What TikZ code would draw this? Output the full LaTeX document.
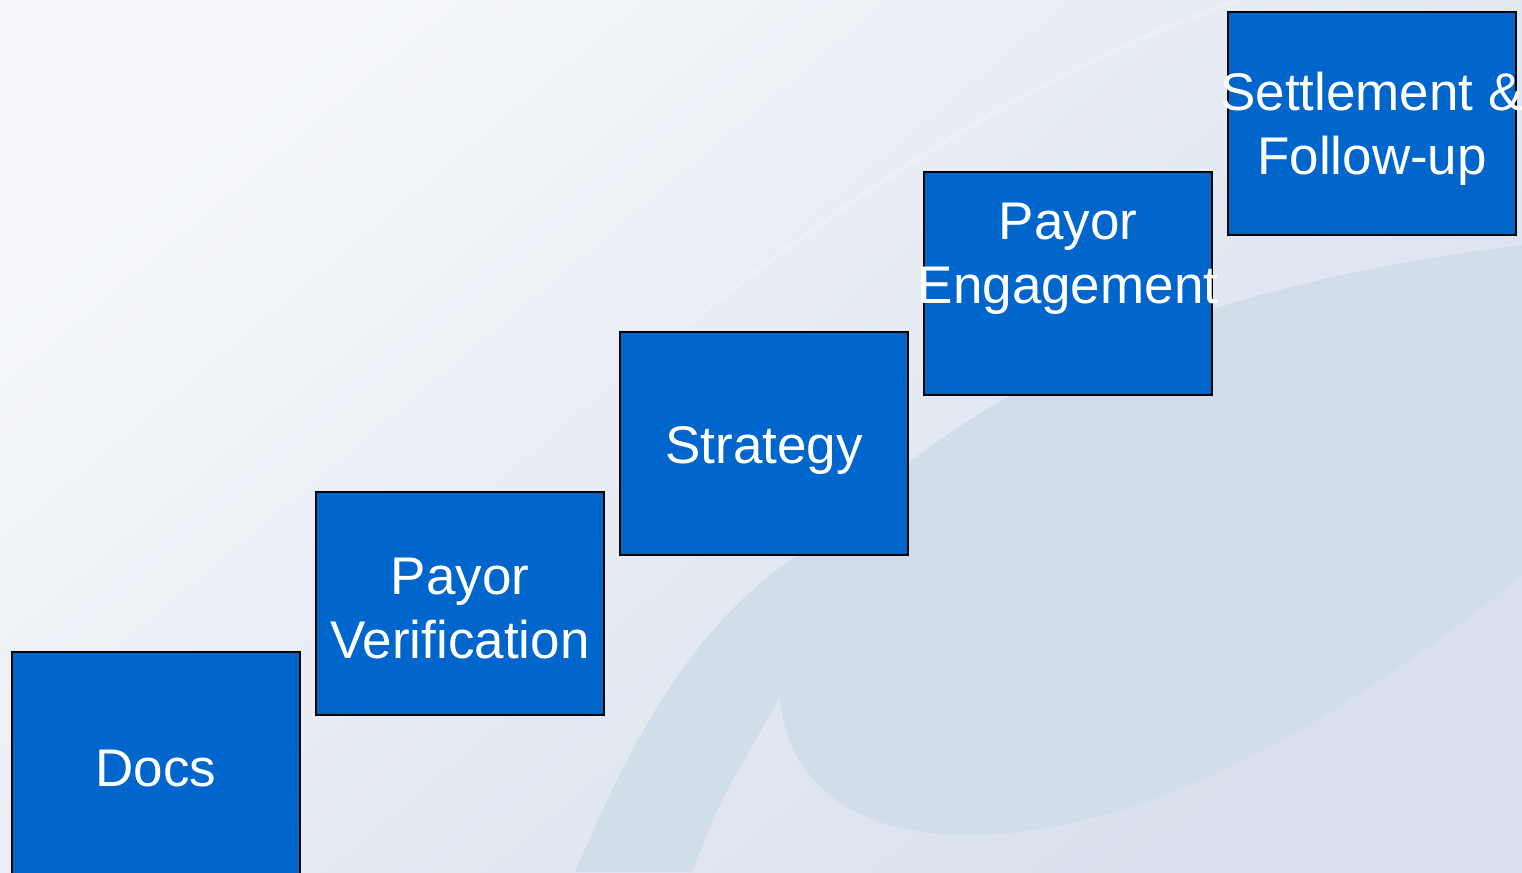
\documentclass[tikz,border=0pt]{standalone}
\usepackage{fontspec}
\setmainfont{Liberation Sans}
\usetikzlibrary{positioning}

\definecolor{stepblue}{RGB}{0,102,204}
\definecolor{bglight}{RGB}{245,247,250}
\definecolor{bgdark}{RGB}{215,224,236}
\definecolor{swoosh}{RGB}{210,221,234}

\begin{document}
\begin{tikzpicture}[x=1bp,y=-1bp,node distance=16bp]
  \tikzstyle{stepbox}=[rectangle,draw=black,line width=1.5bp,fill=stepblue,minimum width=288bp,minimum height=223bp,inner sep=0pt,outer sep=0pt]
  \tikzstyle{steptext}=[text=white,align=center,font=\fontsize{53bp}{64bp}\selectfont,yshift=-5bp]

  % backdrop with the swoosh
  \useasboundingbox (0,0) rectangle (1522,872);
  \clip (0,0) rectangle (1522,872);
  \shade[top color=bglight,bottom color=bgdark,shading angle=40] (0,0) rectangle (1522,872);
  \fill[swoosh] (575,872) .. controls (640,720) and (700,620) .. (800,553)
      .. controls (930,440) and (1080,300) .. (1522,245) -- (1522,575)
      .. controls (1330,730) and (1140,835) .. (967,835)
      .. controls (840,835) and (785,770) .. (780,697)
      .. controls (745,760) and (712,810) .. (693,872) -- cycle;
  \draw[white,opacity=0.18,line width=4bp] (680,330) .. controls (870,180) and (1040,70) .. (1240,0);

  \node [stepbox] (docs) at (156,763.5) [label={[steptext]center:Docs}] {};
  \node [stepbox] (verify) [right=of docs,yshift=160bp,label={[steptext]center:Payor\\Verification}] {};
  \node [stepbox] (strategy) [right=of verify,yshift=160bp,label={[steptext,yshift=-2bp]center:Strategy}] {};
  \node [stepbox] (engage) [right=of strategy,yshift=160bp,label={[steptext,yshift=30bp]center:Payor\\Engagement}] {};
  \node [stepbox] (settle) [right=of engage,yshift=160bp,label={[steptext]center:Settlement \&\\Follow-up}] {}; %top step
\end{tikzpicture}
\end{document}
